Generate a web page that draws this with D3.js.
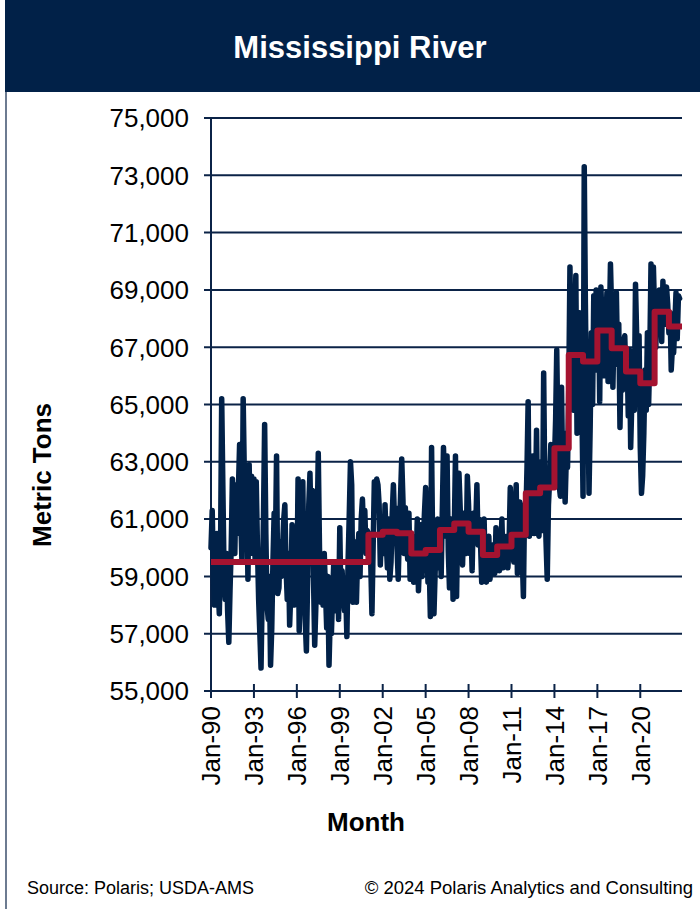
<!DOCTYPE html>
<html><head><meta charset="utf-8">
<script src="https://cdn.jsdelivr.net/npm/d3@7"></script>
<style>body{margin:0;background:#fff}svg{display:block}</style>
</head><body><svg id="c" width="700" height="909"></svg>
<script>
const chartTitle = "Mississippi River";
const yAxisTitle = "Metric Tons";
const xAxisTitle = "Month";
const sourceText = "Source: Polaris; USDA-AMS";
const copyrightText = "\u00A9 2024 Polaris Analytics and Consulting";
const yTicks = [55000,57000,59000,61000,63000,65000,67000,69000,71000,73000,75000];
const xTickYears = [1990,1993,1996,1999,2002,2005,2008,2011,2014,2017,2020];
const startYear = 1990;
// monthly tonnage, Jan-1990 .. Oct-2022 (one row per year)
const tonnage = [
60000,61300,59200,58000,59500,60500,58700,57700,59800,65200,62000,59000,
58200,59800,57800,56700,58500,60000,62400,61500,59800,62200,60500,62000,
63600,61000,59500,65200,62500,60000,61800,58900,62900,60200,62500,59800,
62400,59500,62300,60000,58200,57000,55800,58500,61000,64300,60500,58000,
57500,59000,55900,57200,59500,61200,59800,63200,58400,58600,60200,59000,
60000,61000,61500,59300,58200,59800,57300,58500,60800,59500,58000,60500,
58500,62400,57100,59000,61000,62300,59000,57500,56400,58800,61500,62600,
60500,62000,59000,56600,58000,60500,63300,60000,58100,59200,58000,59800,
58500,57200,59000,55900,57500,57000,58300,59500,57800,58600,59200,57500,
60700,58000,59200,58300,57800,58500,56900,59500,61200,63000,62200,58100,
59500,60200,58100,59800,60500,59000,61000,61700,60500,61300,59800,60600,
60500,60000,59500,57700,60000,62300,61800,62400,62200,61500,59400,60500,
60800,59800,61500,60200,59300,61000,58900,59500,61200,62200,60800,61400,
60000,58900,60500,61800,63100,61700,59800,61400,60300,59600,61200,58900,
59200,60400,58800,60200,59300,61000,58500,59600,60800,59000,60100,61200,
62100,60200,58800,59500,57600,63500,59800,57700,59200,60400,61000,59300,
60500,59000,61200,63500,62000,60400,63200,59900,58600,60200,61000,58200,
60500,63200,58300,61000,62600,61400,60000,59400,61200,60300,59800,62500,
61500,59800,60800,59200,61200,60300,60700,62200,60100,61000,60200,58800,
60200,61000,59200,58800,59500,60400,58900,59600,60100,59300,59100,60700,
59500,60300,59200,59900,61000,59300,60100,59600,60400,59300,60200,62100,
61200,60000,59500,60800,62200,59100,60400,61600,60900,59800,58300,61500,
61000,62800,65100,60400,62300,61000,63200,60500,61500,64100,60800,60400,
61500,63000,60600,66100,62000,60200,58900,61500,62400,63600,62800,62600,
63000,64500,66900,63800,62200,61800,65600,62300,64000,61600,63200,62800,
65500,69800,66800,68300,64800,67200,69500,64000,66300,68200,65200,65200,
61800,73300,68500,64800,66000,61900,64200,67500,65000,68800,67200,69000,
66200,68500,65100,69100,67800,68600,66000,67500,68900,65800,67600,69900,
68200,65600,67500,68000,68900,66400,67800,64200,66800,65500,67200,67400,
65800,66500,64600,66900,63500,65200,66300,64800,69200,67400,66200,67400,
63500,61900,62500,64000,66200,64800,67500,65000,66800,69900,67000,69800,
68200,67000,68900,67500,69000,68400,67200,69300,68000,67800,69100,68500,
67500,68200,66200,67000,66800,67800,68900,67300,68800,68700
];
const avgYears = [1990,1991,1992,1993,1994,1995,1996,1997,1998,1999,2000,2001,2002,2003,2004,2005,2006,2007,2008,2009,2010,2011,2012,2013,2014,2015,2016,2017,2018,2019,2020,2021,2022];
const avgTons = [59500,59500,59500,59500,59500,59500,59500,59500,59500,59500,59500,60450,60560,60510,59800,59920,60620,60850,60560,59750,60040,60450,61900,62100,63470,66730,66500,67580,66960,66150,65740,68240,67720];

const navy = "#0b2347";
const red = "#a51330";
const font = "'Liberation Sans', Arial, sans-serif";

const svg = d3.select("#c");
svg.append("rect").attr("width",700).attr("height",909).attr("fill","#fff");
// title bar
svg.append("rect").attr("x",5).attr("y",0).attr("width",695).attr("height",92).attr("fill","#012148");
svg.append("text").attr("x",360).attr("y",58).attr("text-anchor","middle")
  .attr("font-family",font).attr("font-weight","bold").attr("font-size",31)
  .attr("fill","#fff").text(chartTitle);
// left frame line
svg.append("line").attr("x1",6).attr("x2",6).attr("y1",92).attr("y2",909)
  .attr("stroke",navy).attr("stroke-width",1.2);

const start = new Date(startYear,0,1);
const data = tonnage.map((v,i)=>({date:d3.timeMonth.offset(start,i), v}));
const endDate = d3.timeMonth.offset(start, tonnage.length+1);

const x = d3.scaleTime().domain([start,endDate]).range([211,682]);
const y = d3.scaleLinear().domain([55000,75000]).range([691,118]);

// gridlines
svg.append("g").selectAll("line").data(yTicks).join("line")
  .attr("x1",204).attr("x2",682).attr("y1",d=>y(d)).attr("y2",d=>y(d))
  .attr("stroke",navy).attr("stroke-width",2);
// y axis line
svg.append("line").attr("x1",211).attr("x2",211).attr("y1",117).attr("y2",698)
  .attr("stroke",navy).attr("stroke-width",2);
// y labels
svg.append("g").selectAll("text").data(yTicks).join("text")
  .attr("x",189).attr("y",d=>y(d)).attr("dy","0.36em").attr("text-anchor","end")
  .attr("font-family",font).attr("font-size",26).attr("fill","#000")
  .text(d=>d3.format(",")(d));
// x ticks
const xt = xTickYears.map(yr=>new Date(yr,0,1));
svg.append("g").selectAll("line").data(xt).join("line")
  .attr("x1",d=>x(d)).attr("x2",d=>x(d)).attr("y1",684).attr("y2",698)
  .attr("stroke",navy).attr("stroke-width",2);
svg.append("g").selectAll("text").data(xt).join("text")
  .attr("transform",d=>`translate(${x(d)},706) rotate(-90)`)
  .attr("dy","0.36em").attr("text-anchor","end")
  .attr("font-family",font).attr("font-size",26).attr("fill","#000")
  .text(d=>d3.timeFormat("Jan-%y")(d));

// data line
const line = d3.line().x(d=>x(d.date)).y(d=>y(d.v)).curve(d3.curveLinear);
svg.append("path").datum(data).attr("d",line).attr("fill","none")
  .attr("stroke","#012148").attr("stroke-width",5.5).attr("stroke-linejoin","round").attr("stroke-linecap","round");

// average step line
const avgData = avgYears.map((yr,i)=>({date:new Date(yr,0,1), v:avgTons[i]}));
avgData.push({date:endDate, v:avgTons[avgTons.length-1]});
const stepLine = d3.line().x(d=>x(d.date)).y(d=>y(d.v)).curve(d3.curveStepAfter);
svg.append("path").datum(avgData).attr("d",stepLine).attr("fill","none")
  .attr("stroke",red).attr("stroke-width",6).attr("stroke-linejoin","round");

// axis titles
svg.append("text").attr("transform","translate(42,475) rotate(-90)").attr("text-anchor","middle")
  .attr("dy","0.36em").attr("font-family",font).attr("font-weight","bold").attr("font-size",26)
  .text(yAxisTitle);
svg.append("text").attr("x",366).attr("y",831).attr("text-anchor","middle")
  .attr("font-family",font).attr("font-weight","bold").attr("font-size",26)
  .text(xAxisTitle);

// footer
svg.append("text").attr("x",27).attr("y",894).attr("font-family",font).attr("font-size",18)
  .text(sourceText);
svg.append("text").attr("x",693).attr("y",894).attr("text-anchor","end").attr("font-family",font).attr("font-size",18.5)
  .text(copyrightText);
</script></body></html>
